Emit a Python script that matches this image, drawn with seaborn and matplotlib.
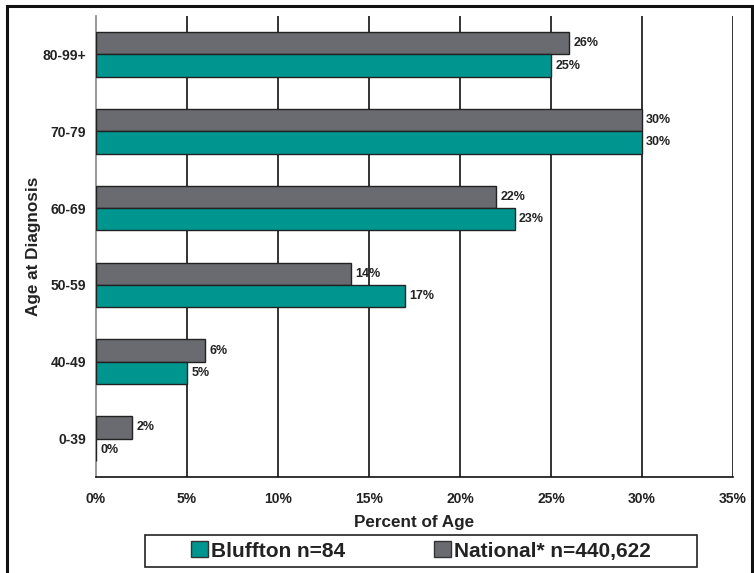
import pandas as pd
import matplotlib
matplotlib.use("Agg")
import matplotlib.pyplot as plt
import matplotlib.patches as mpatches
import seaborn as sns
import numpy as np

# Data
age_groups = ["80-99+", "70-79", "60-69", "50-59", "40-49", "0-39"]
bluffton = [25, 30, 23, 17, 5, 0]
national = [26, 30, 22, 14, 6, 2]
x_ticks = [0, 5, 10, 15, 20, 25, 30, 35]

teal = "#009690"
gray = "#6a6b70"

df = pd.DataFrame({
    "age": age_groups * 2,
    "pct": national + bluffton,
    "group": ["National"] * len(age_groups) + ["Bluffton"] * len(age_groups),
})

sns.set_style("white")
plt.rcParams["font.family"] = ["Liberation Sans", "DejaVu Sans"]

W, H = 754, 573
fig = plt.figure(figsize=(W / 100, H / 100), dpi=100)
ax = fig.add_axes([96 / W, 1 - 477 / H, (733 - 96) / W, (477 - 16) / H])

sns.barplot(data=df, y="age", x="pct", hue="group", order=age_groups,
            hue_order=["National", "Bluffton"],
            palette={"National": gray, "Bluffton": teal}, saturation=1,
            orient="h", width=0.58, gap=0, edgecolor="#222222", linewidth=1.0,
            legend=False, ax=ax, zorder=3)

# value labels
for cont in ax.containers:
    ax.bar_label(cont, labels=[f"{int(v)}%" for v in cont.datavalues],
                 padding=3, fontsize=9, fontweight="bold", color="#222222")

ax.set_xlim(0, 35)
ax.set_ylim(len(age_groups) - 0.5, -0.5)
ax.set_xticks(x_ticks)
ax.set_xticklabels([f"{t}%" for t in x_ticks], fontsize=10, fontweight="bold", color="#222222")
for t in x_ticks[1:]:
    ax.axvline(t, color="#111111", linewidth=1.2, zorder=1)

ax.set_yticks(range(len(age_groups)))
ax.set_yticklabels(age_groups, fontsize=10, fontweight="bold", color="#222222")
ax.set_yticks(np.arange(-0.5, len(age_groups)), minor=True)
ax.tick_params(axis="y", which="major", length=0, pad=7)
ax.tick_params(axis="y", which="minor", length=5, direction="out", color="#777777", width=1)
ax.tick_params(axis="x", which="major", length=6, direction="inout", color="#111111", width=1, pad=8)

for s in ["top", "right"]:
    ax.spines[s].set_visible(False)
ax.spines["left"].set_color("#888888")
ax.spines["left"].set_linewidth(1.2)
ax.spines["bottom"].set_color("#111111")
ax.spines["bottom"].set_linewidth(1.2)

ax.set_xlabel("Percent of Age", fontsize=12.3, fontweight="bold", color="#222222", labelpad=6)
ax.set_ylabel("Age at Diagnosis", fontsize=12.3, fontweight="bold", color="#222222")
ax.yaxis.set_label_coords((41 - 96) / (733 - 96), 0.5)

# legend: entries without frame, box drawn separately
handles = [mpatches.Patch(facecolor=teal, edgecolor="#333333", label="Bluffton n=84"),
           mpatches.Patch(facecolor=gray, edgecolor="#333333", label="National* n=440,622")]
leg = fig.legend(handles=handles, loc="center", bbox_to_anchor=(421 / W, 1 - 551 / H),
                 ncol=2, frameon=False, prop={"weight": "bold", "size": 15},
                 handlelength=0.78, handleheight=0.78, handletextpad=0.15,
                 columnspacing=4.3, borderpad=0, borderaxespad=0)
for txt in leg.get_texts():
    txt.set_color("#222222")
fig.patches.append(mpatches.Rectangle((145 / W, 1 - 567 / H), (697 - 145) / W, 32 / H,
                                      transform=fig.transFigure, fill=False,
                                      edgecolor="#222222", linewidth=1.2))

# outer figure border
fig.patches.append(mpatches.Rectangle((7 / W, -0.05), (752 - 7) / W, 1.05 - 6 / H,
                                      transform=fig.transFigure, fill=False,
                                      edgecolor="#111111", linewidth=2.2))

fig.savefig("out.png", dpi=100)
